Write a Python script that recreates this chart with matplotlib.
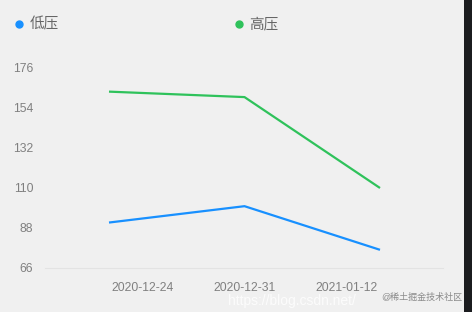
import matplotlib
matplotlib.use("Agg")
import matplotlib.pyplot as plt
from matplotlib.lines import Line2D
from matplotlib.patches import Rectangle

plt.rcParams['font.family'] = ['Liberation Sans', 'Noto Sans CJK SC', 'DejaVu Sans']

# data
dates = ['2020-12-24', '2020-12-31', '2021-01-12']
low = [91, 100, 76]      # 低压
high = [163, 160, 110]   # 高压
y_ticks = [66, 88, 110, 132, 154, 176]
date_tick_pos = [0.25, 1.0, 1.75]

BG = '#f0f0f0'
BLUE = '#1890ff'
GREEN = '#2fc25b'

fig = plt.figure(figsize=(4.72, 3.12), dpi=100, facecolor=BG)
ax = fig.add_axes([45 / 472, 44 / 312, 398 / 472, 200 / 312], facecolor=BG)

x = list(range(len(dates)))
ax.plot(x, low, color=BLUE, lw=1.6, solid_capstyle='butt')
ax.plot(x, high, color=GREEN, lw=1.6, solid_capstyle='butt')

ax.set_xlim((45 - 109) / 135.5, (443 - 109) / 135.5)
ax.set_ylim(66, 176)
ax.set_yticks(y_ticks)
ax.set_yticklabels([str(v) for v in y_ticks])
ax.set_xticks(date_tick_pos)
ax.set_xticklabels(dates)

for s in ['top', 'right', 'left']:
    ax.spines[s].set_visible(False)
ax.spines['bottom'].set_color('#e3e3e3')
ax.spines['bottom'].set_linewidth(0.8)
ax.tick_params(axis='both', length=0, labelcolor='#808080', labelsize=8.7)
ax.tick_params(axis='y', pad=8.5)
ax.tick_params(axis='x', pad=10)

handles = [
    Line2D([], [], ls='none', marker='o', ms=5, color=BLUE),
    Line2D([], [], ls='none', marker='o', ms=5, color=GREEN),
]
leg = fig.legend(handles, ['低压', '高压'], loc='upper left', ncol=2,
                 bbox_to_anchor=(0.0, 1 - 3 / 312), frameon=False, fontsize=10.5,
                 handlelength=0.6, handletextpad=0.45, columnspacing=12.0,
                 borderaxespad=0.6, labelcolor='#666666')

# watermarks
fig.text(228 / 472, 1 - 301 / 312, 'https://blog.csdn.net/', color='white',
         alpha=0.8, fontsize=10, va='center')
fig.text(462 / 472, 1 - 297 / 312, '@稀土掘金技术社区', color='#8a8a8a',
         fontsize=6.5, ha='right', va='center')

# dark strip at right edge
fig.add_artist(Rectangle((464 / 472, 0), 8 / 472, 1, transform=fig.transFigure,
                         color='#1b1c1f', lw=0))

fig.savefig('out.png', dpi=100, facecolor=BG)
